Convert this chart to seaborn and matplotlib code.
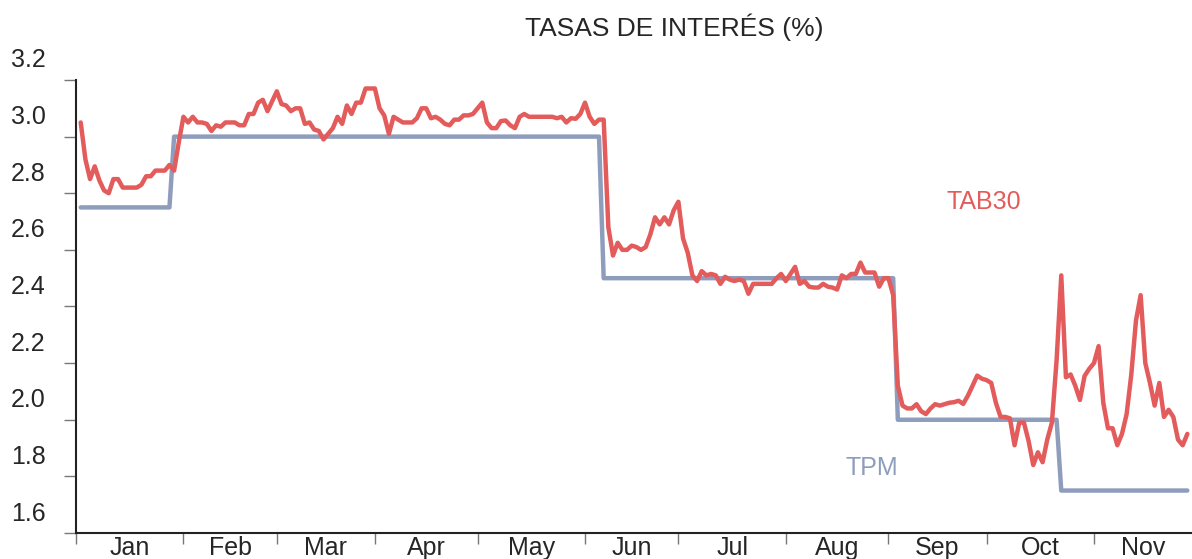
import matplotlib
matplotlib.use('Agg')
import matplotlib.pyplot as plt
from matplotlib.transforms import ScaledTranslation
import seaborn as sns
import numpy as np
import pandas as pd

# business days of 2019 up to end of November (Jan 1 is the first slot, data starts Jan 2)
days = pd.bdate_range('2019-01-01', '2019-11-29')
month_names = ['Jan', 'Feb', 'Mar', 'Apr', 'May', 'Jun', 'Jul', 'Aug', 'Sep', 'Oct', 'Nov']

# TAB30 daily values
tab30 = [
    3.05, 2.92, 2.85, 2.895, 2.845, 2.81, 2.80, 2.85, 2.85, 2.82,
    2.82, 2.82, 2.82, 2.83, 2.86, 2.86, 2.88, 2.88, 2.88, 2.90,
    2.88, 2.98, 3.07, 3.05, 3.07, 3.05, 3.05, 3.045, 3.02, 3.04,
    3.035, 3.05, 3.05, 3.05, 3.04, 3.04, 3.08, 3.08, 3.12, 3.13,
    3.09, 3.125, 3.16, 3.115, 3.11, 3.09, 3.10, 3.10, 3.045, 3.05,
    3.025, 3.02, 2.99, 3.01, 3.03, 3.07, 3.045, 3.11, 3.08, 3.12,
    3.12, 3.17, 3.17, 3.17, 3.10, 3.075, 3.01, 3.07, 3.06, 3.05,
    3.05, 3.05, 3.065, 3.10, 3.10, 3.065, 3.07, 3.06, 3.045, 3.04,
    3.06, 3.06, 3.075, 3.075, 3.08, 3.10, 3.12, 3.05, 3.03, 3.03,
    3.055, 3.057, 3.04, 3.03, 3.07, 3.08, 3.07, 3.07, 3.07, 3.07,
    3.07, 3.07, 3.065, 3.07, 3.05, 3.065, 3.063, 3.08, 3.12, 3.07,
    3.045, 3.06, 3.06, 2.68, 2.58, 2.625, 2.60, 2.60, 2.615, 2.61,
    2.60, 2.61, 2.655, 2.715, 2.69, 2.715, 2.69, 2.74, 2.77, 2.64,
    2.59, 2.51, 2.49, 2.525, 2.51, 2.515, 2.51, 2.48, 2.505, 2.495,
    2.49, 2.495, 2.49, 2.445, 2.48, 2.48, 2.48, 2.48, 2.48, 2.50,
    2.515, 2.49, 2.515, 2.54, 2.48, 2.49, 2.47, 2.467, 2.467, 2.48,
    2.47, 2.467, 2.46, 2.51, 2.50, 2.515, 2.515, 2.555, 2.52, 2.52,
    2.52, 2.47, 2.50, 2.50, 2.44, 2.12, 2.05, 2.04, 2.04, 2.055,
    2.03, 2.02, 2.04, 2.055, 2.05, 2.055, 2.06, 2.062, 2.067, 2.056,
    2.085, 2.12, 2.156, 2.145, 2.14, 2.13, 2.06, 2.01, 2.01, 2.005,
    1.91, 1.99, 1.99, 1.925, 1.84, 1.885, 1.85, 1.93, 1.99, 2.21,
    2.51, 2.15, 2.16, 2.12, 2.07, 2.155, 2.18, 2.20, 2.26, 2.06,
    1.97, 1.97, 1.91, 1.95, 2.02, 2.16, 2.35, 2.44, 2.20, 2.13,
    2.05, 2.13, 2.01, 2.035, 2.01, 1.93, 1.91, 1.95,
]

# TPM policy rate: levels and number of business days at each level
tpm_levels = [2.75, 3.00, 2.50, 2.00, 1.75]
tpm_days = [20, 92, 63, 35, 28]

ytick_values = [1.6, 1.8, 2.0, 2.2, 2.4, 2.6, 2.8, 3.0, 3.2]

red = '#E35B5B'
blue = '#8F9DBD'

pos = np.arange(1, len(days))
df = pd.DataFrame({
    'pos': pos,
    'TAB30': tab30,
    'TPM': np.repeat(tpm_levels, tpm_days),
})

month_idx = days.month.values
month_starts = [int(np.argmax(month_idx == m)) for m in range(1, 12)] + [len(days)]
month_centers = [(a + b) / 2 for a, b in zip(month_starts[:-1], month_starts[1:])]

sns.set_style('white')
plt.rcParams['font.family'] = ['Liberation Sans', 'DejaVu Sans']

fig = plt.figure(figsize=(11.92, 5.59), dpi=100)
ax = fig.add_axes([0.0638, 0.0465, 0.9362, 0.8104])

sns.lineplot(data=df, x='pos', y='TPM', color=blue, linewidth=3.2, ax=ax)
sns.lineplot(data=df, x='pos', y='TAB30', color=red, linewidth=3.2, ax=ax)

ax.set_xlim(0, len(days))
ax.set_ylim(1.6, 3.2)
ax.set_xlabel('')
ax.set_ylabel('')

for s in ['top', 'right']:
    ax.spines[s].set_visible(False)
for s in ['left', 'bottom']:
    ax.spines[s].set_color('#222222')
    ax.spines[s].set_linewidth(1.5)

ax.set_yticks(ytick_values)
ax.set_yticklabels([f'{v:.1f}' for v in ytick_values], fontsize=18)
ax.tick_params(axis='y', length=9, width=1, color='#777777', pad=13, left=True)
# labels sit a bit above their tick marks, as in the original
off = ScaledTranslation(0, 0.22, fig.dpi_scale_trans)
for lbl in ax.get_yticklabels():
    lbl.set_transform(lbl.get_transform() + off)

ax.set_xticks(month_centers)
ax.set_xticklabels(month_names, fontsize=18)
ax.set_xticks(month_starts[:-1], minor=True)
ax.tick_params(axis='x', which='major', length=0, pad=2)
ax.tick_params(axis='x', which='minor', length=8, width=1, color='#777777', bottom=True)

ax.text(194.5, 2.77, 'TAB30', color=red, fontsize=18, ha='center', va='center')
ax.text(170.5, 1.83, 'TPM', color=blue, fontsize=18, ha='center', va='center')

fig.text(0.566, 0.952, 'TASAS DE INTERÉS (%)', fontsize=19, ha='center', va='center')

fig.savefig('out.png', dpi=100)
